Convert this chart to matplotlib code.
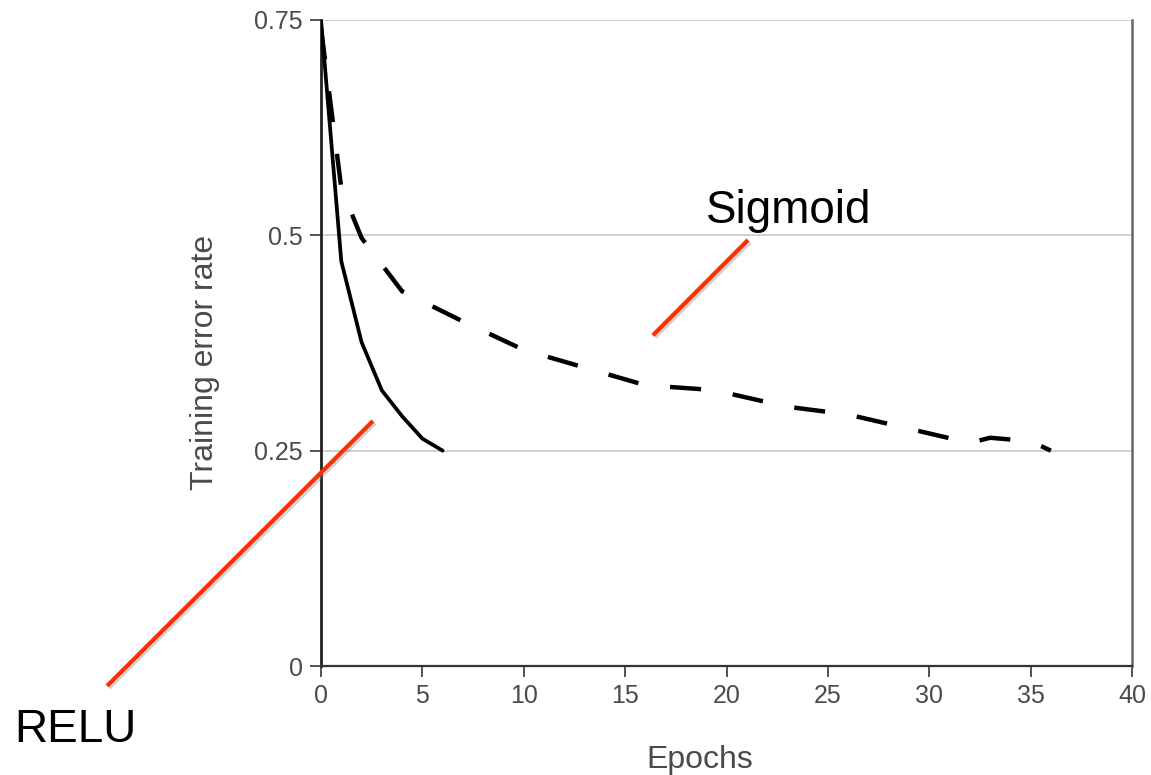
import matplotlib
matplotlib.use("Agg")
import matplotlib.pyplot as plt
import matplotlib.patheffects as pe

plt.rcParams['font.family'] = ['Liberation Sans', 'DejaVu Sans']

# Training curves
relu_epochs = [0, 1, 2, 3, 4, 5, 6]
relu_error = [0.75, 0.47, 0.376, 0.32, 0.29, 0.264, 0.25]

sigmoid_epochs = [0, 1, 2, 4, 7, 10, 16, 19, 20, 23, 26, 32, 33, 35, 36]
sigmoid_error = [0.74, 0.555, 0.497, 0.435, 0.400, 0.367, 0.326, 0.321,
                 0.317, 0.301, 0.292, 0.259, 0.265, 0.261, 0.250]

x_ticks = [0, 5, 10, 15, 20, 25, 30, 35, 40]
y_ticks = [0, 0.25, 0.5, 0.75]
y_tick_labels = ["0", "0.25", "0.5", "0.75"]

# Callout lines: (x0, y0, x1, y1) in data units
relu_callout = (2.56, 0.2845, -10.55, -0.023)
sigmoid_callout = (16.37, 0.384, 21.06, 0.4946)

fig = plt.figure(figsize=(11.51, 7.75), dpi=100)
ax = fig.add_axes([0.2789, 0.1406, 0.7046, 0.8336])

ax.set_xlim(0, 40)
ax.set_ylim(0, 0.75)

for yv in y_ticks[1:]:
    ax.axhline(yv, color='#c8c8c8', lw=1.2, zorder=0)

ax.plot(relu_epochs, relu_error, color='black', lw=2.7,
        solid_joinstyle='round', solid_capstyle='round', zorder=3)
ax.plot(sigmoid_epochs, sigmoid_error, color='black', lw=3.2,
        dashes=(7.0, 7.2), dash_capstyle='butt', dash_joinstyle='round', zorder=3)

ax.set_xticks(x_ticks)
ax.set_yticks(y_ticks)
ax.set_yticklabels(y_tick_labels)
ax.tick_params(axis='both', direction='out', length=8, width=1.3,
               color='#444444', labelcolor='#4a4a4a', labelsize=18, pad=5)

ax.spines['top'].set_visible(False)
ax.spines['left'].set_color('#222222')
ax.spines['left'].set_linewidth(2.0)
ax.spines['bottom'].set_color('#333333')
ax.spines['bottom'].set_linewidth(1.6)
ax.spines['right'].set_color('#666666')
ax.spines['right'].set_linewidth(1.8)

ax.set_xlabel("Epochs", fontsize=23, color='#4a4a4a', va='baseline')
ax.xaxis.set_label_coords(0.467, -0.158)
ax.set_ylabel("Training error rate", fontsize=23, color='#4a4a4a', va='center')
ax.yaxis.set_label_coords(-0.143, 0.4706)

shadow = [pe.SimpleLineShadow(offset=(1.5, -1.5), shadow_color='#888888', alpha=0.35),
          pe.Normal()]
red = '#ff2d00'
for x0, y0, x1, y1 in (relu_callout, sigmoid_callout):
    ax.plot([x0, x1], [y0, y1], color=red, lw=3.0, solid_capstyle='butt',
            clip_on=False, path_effects=shadow, zorder=4)

fig.text(75 / 1151, 1 - 742 / 775, "RELU", fontsize=33, color='black',
         ha='center', va='baseline')
fig.text(789 / 1151, 1 - 223 / 775, "Sigmoid", fontsize=33, color='black',
         ha='center', va='baseline')

fig.savefig("out.png", dpi=100, facecolor='white')
